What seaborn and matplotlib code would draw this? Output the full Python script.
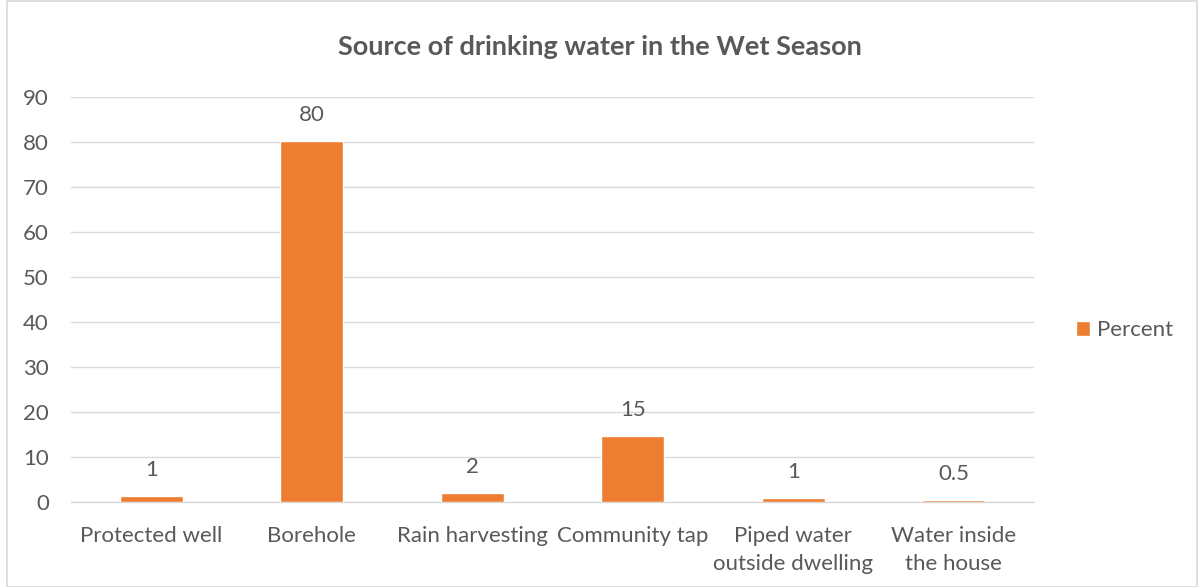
import matplotlib
matplotlib.use("Agg")
import matplotlib.pyplot as plt
import seaborn as sns
import pandas as pd

categories = ["Protected well", "Borehole", "Rain harvesting", "Community tap",
              "Piped water\noutside dwelling", "Water inside\nthe house"]
values = [1.4, 80.3, 2.0, 14.7, 1.0, 0.5]
value_labels = ["1", "80", "2", "15", "1", "0.5"]
yticks = [0, 10, 20, 30, 40, 50, 60, 70, 80, 90]

sns.set_theme(style="white")
plt.rcParams['font.family'] = ['Lato', 'DejaVu Sans']

txt = "#595959"
W, H = 1198, 587
fig = plt.figure(figsize=(W / 100, H / 100), dpi=100)
ax = fig.add_axes([71 / W, 85 / H, 963 / W, 405 / H])

df = pd.DataFrame({"cat": categories, "val": values})
sns.barplot(data=df, x="cat", y="val", color="#ED7D31", width=0.39,
            saturation=1, label="Percent", ax=ax, zorder=3)
if ax.get_legend() is not None:
    ax.get_legend().remove()

ax.set_ylim(0, 90)
ax.set_yticks(yticks)
ax.set_xlim(-0.5, len(categories) - 0.5)
ax.grid(axis="y", color="#d9d9d9", linewidth=1, zorder=0)
ax.set_axisbelow(True)
for s in ["top", "right", "left"]:
    ax.spines[s].set_visible(False)
ax.spines["bottom"].set_color("#d9d9d9")
ax.spines["bottom"].set_linewidth(1)
ax.tick_params(axis="y", length=0, labelsize=16, colors=txt, pad=16)
ax.tick_params(axis="x", length=0, labelsize=16, colors=txt, pad=17)
for t in ax.get_xticklabels():
    t.set_linespacing(1.5)
ax.set_xlabel("")
ax.set_ylabel("")

for i, (v, lab) in enumerate(zip(values, value_labels)):
    ax.annotate(lab, (i, v), xytext=(0, 18.5), textcoords="offset points",
                ha="center", va="center", fontsize=16, color=txt)

fig.text(600 / W, 1 - 47 / H, "Source of drinking water in the Wet Season",
         ha="center", va="center", fontsize=19.5, fontweight="bold", color=txt)

handles, labels = ax.get_legend_handles_labels()
leg = fig.legend(handles, labels, loc="center left", bbox_to_anchor=(1076 / W, 1 - 330 / H),
                 bbox_transform=fig.transFigure, frameon=False, borderpad=0,
                 borderaxespad=0, fontsize=16, handlelength=0.65, handleheight=0.65,
                 handletextpad=0.3)
for t in leg.get_texts():
    t.set_color(txt)

fig.patches.append(plt.Rectangle((7 / W, 0.0), (1197 - 7) / W, 0.999, transform=fig.transFigure,
                                 fill=False, edgecolor="#d9d9d9", linewidth=1.2))

fig.savefig("out.png", dpi=100)
